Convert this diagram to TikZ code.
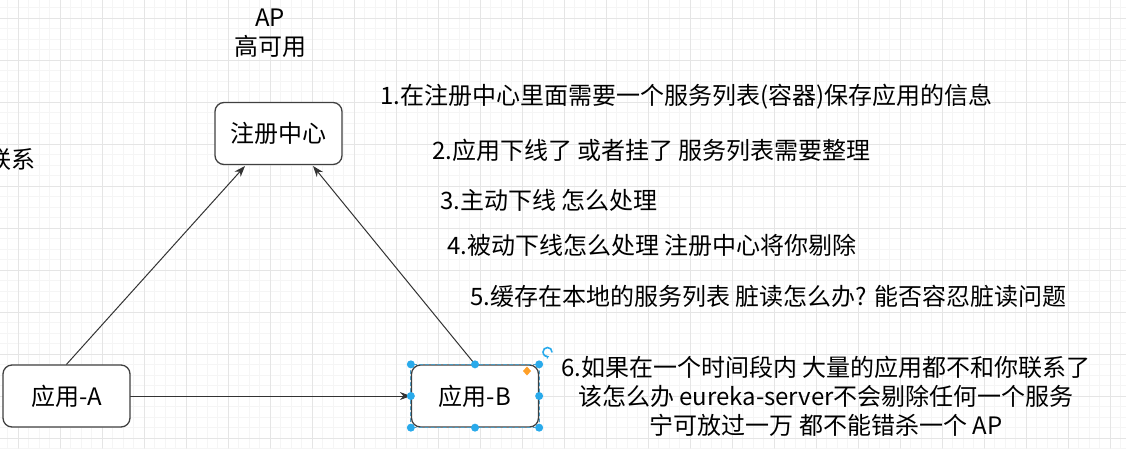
\documentclass[tikz,border=0pt]{standalone}
\usepackage{fontspec}
\setmainfont{Noto Sans CJK SC}
\usetikzlibrary{arrows.meta}
\definecolor{selblue}{RGB}{41,170,235}
\definecolor{handleorange}{RGB}{255,160,40}

\begin{document}
\begin{tikzpicture}[x=1pt,y=-1pt,>={Stealth[length=11pt,width=8pt]},
  font=\fontsize{24}{29}\selectfont,line cap=round,
  box/.style={draw=black!75,line width=1.3pt,rounded corners=9pt,fill=white,
    minimum width=127pt,minimum height=62pt,inner sep=0pt},
  note/.style={anchor=west,inner sep=0pt},
  link/.style={->,black!80,line width=1pt},
  handle/.style={fill=selblue,draw=none}]
\useasboundingbox (0,0) rectangle (1126,448);
\clip (0,0) rectangle (1126,448);
% canvas grid
\foreach \g in {-24,-13.5,...,1130} {
  \draw[gray!8,line width=0.8pt] (\g,0) -- (\g,448);
  \draw[gray!8,line width=0.8pt] (0,\g) -- (1126,\g);
}
\foreach \g in {18,60,...,1130} {
  \draw[gray!20,line width=1pt] (\g,0) -- (\g,448);
  \draw[gray!20,line width=1pt] (0,\g) -- (1126,\g);
}
\node[inner sep=0pt,align=center] (ap) at (270,33) {AP\\高可用};
\node[anchor=east,inner sep=0pt] (lianxi) at (36,160) {联系};
\node[box] (zhuce) at (278.5,133.5) {注册中心};
\node[box] (appa) at (66.5,396) {应用-A};
\node[box] (appb) at (475,396) {应用-B};
\draw[link] (appa.north) -- (245,166);
\draw[link] (appb.north) -- (313,166);
\draw[link] (appa.east) -- (appb.west);
% selection handles
\draw[selblue!60!gray,dashed,line width=1pt] (appb.south west) rectangle (appb.north east);
\foreach \a in {north west,north,north east,east,south east,south,south west,west}
  \fill[handle] (appb.\a) circle (4pt);
\fill[handleorange] (527,366.5) -- (531,371) -- (527,375.5) -- (523,371) -- cycle;
\draw[selblue,line width=1.6pt,-{Stealth[length=3pt,width=4pt]}] (552,352) arc (0:290:4.5pt);
\node[note] (n1) at (380,97) {1.在注册中心里面需要一个服务列表(容器)保存应用的信息};
\node[note] (n2) at (432,150) {2.应用下线了 或者挂了 服务列表需要整理};
\node[note] (n3) at (440,200) {3.主动下线 怎么处理};
\node[note] (n4) at (447,245) {4.被动下线怎么处理 注册中心将你剔除};
\node[note] (n5) at (470,296) {5.缓存在本地的服务列表 脏读怎么办? 能否容忍脏读问题};
\node[inner sep=0pt,align=center] (n6) at (826,396)
  {6.如果在一个时间段内 大量的应用都不和你联系了\\该怎么办 eureka-server不会剔除任何一个服务\\宁可放过一万 都不能错杀一个 AP};
\end{tikzpicture}
\end{document}
